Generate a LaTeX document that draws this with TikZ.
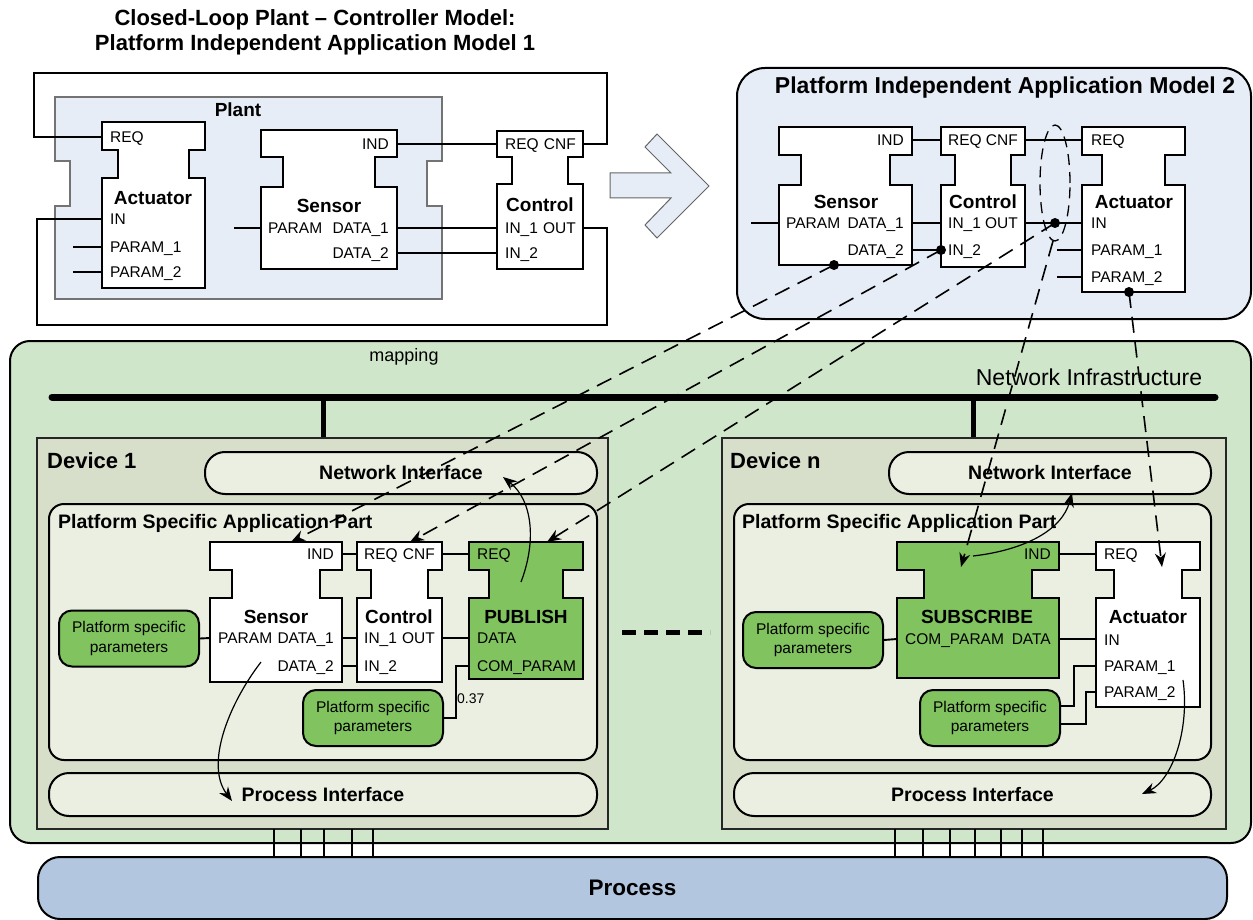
\documentclass[tikz,border=0pt]{standalone}
\usepackage{fontspec}
\setmainfont{Liberation Sans}
\usetikzlibrary{arrows.meta}
\definecolor{lblue}{HTML}{E6EDF7}
\definecolor{mapgreen}{HTML}{D0E6CB}
\definecolor{devfill}{HTML}{D7DEC9}
\definecolor{innerfill}{HTML}{EBEFE1}
\definecolor{fbgreen}{HTML}{80C35F}
\definecolor{procblue}{HTML}{B3C6E0}
\newcommand{\fbpath}[8]{%
  \draw[#1] (#2,#4) -- (#3,#4) -- (#3,#5) -- ({#3-#8},#5) -- ({#3-#8},#6) -- (#3,#6) -- (#3,#7) -- (#2,#7) -- (#2,#6) -- ({#2+#8},#6) -- ({#2+#8},#5) -- (#2,#5) -- cycle;}
\begin{document}
\begin{tikzpicture}[x=1pt,y=-1pt,
  port/.style={font=\fontsize{15.5}{17}\selectfont, inner sep=0pt, text height=11.1pt, text depth=0pt},
  fbname/.style={font=\bfseries\fontsize{19}{21}\selectfont, inner sep=0pt, text height=13.7pt, text depth=0pt},
  titlefont/.style={font=\bfseries\fontsize{22}{26}\selectfont, inner sep=0pt},
  wire/.style={line width=1.9pt},
  fbbox/.style={draw=black, line width=2.1pt, fill=white},
  fbgbox/.style={fbbox, fill=fbgreen},
  pspbox/.style={draw, line width=2pt, fill=fbgreen, rounded corners=13pt, minimum width=140pt, minimum height=56pt, align=center, inner sep=0pt, font=\fontsize{15.5}{19.5}\selectfont},
  rbox/.style={draw, line width=2pt, fill=innerfill, inner sep=0pt},
  boxtitle/.style={font=\bfseries\fontsize{19.5}{22}\selectfont},
  mapline/.style={dashed, dash pattern=on 16pt off 9pt, line width=1.6pt, -{Stealth[length=14pt,width=11pt]}},
  flow/.style={line width=1.2pt, -{Stealth[length=14pt,width=11pt]}},
  jdot/.style={circle, fill=black, inner sep=0pt, minimum size=10pt},
]
\useasboundingbox (0,0) rectangle (1253,920);

% ---------------- Titles ----------------
\node[titlefont] (t1) at (315,20) {Closed-Loop Plant – Controller Model:};
\node[titlefont] (t2) at (315,45) {Platform Independent Application Model 1};

% ---------------- Model 1 ----------------
\fbpath{draw=black!55, line width=1.2pt, fill=lblue}{55}{442}{97}{161}{206}{299}{15}
\node[font=\bfseries\fontsize{19}{21}\selectfont] (plant) at (238,110) {Plant};

\coordinate (a1req) at (102,137); \coordinate (a1in) at (102,219);
\coordinate (a1p1) at (102,247); \coordinate (a1p2) at (102,272);
\coordinate (s1ind) at (397,144); \coordinate (s1d1) at (397,228);
\coordinate (s1d2) at (397,253); \coordinate (s1par) at (261,228);
\coordinate (c1req) at (497,144); \coordinate (c1cnf) at (583,144);
\coordinate (c1in1) at (497,228); \coordinate (c1out) at (583,228);
\coordinate (c1in2) at (497,253);
\coordinate (lpA) at (34,73); \coordinate (lpB) at (607,73);
\coordinate (lpC) at (607,325); \coordinate (lpD) at (37,325);

\draw[wire] (a1req) -- (lpA |- a1req) -- (lpA) -- (lpB) -- (lpB |- c1cnf) -- (c1cnf);
\draw[wire] (c1out) -- (lpC |- c1out) -- (lpC) -- (lpD) -- (lpD |- a1in) -- (a1in);
\draw[wire] (s1ind) -- (c1req);
\draw[wire] (s1d1) -- (c1in1);
\draw[wire] (s1d2) -- (c1in2);
\draw[wire] (s1par) -- ++(-27,0);
\draw[wire] (a1p1) -- ++(-29,0);
\draw[wire] (a1p2) -- ++(-29,0);

\fbpath{fbbox}{102}{205}{122}{150}{178}{288}{16}
\fbpath{fbbox}{261}{397}{130}{157}{187}{269}{22}
\fbpath{fbbox}{497}{583}{131}{157}{184}{269}{15}

\node[port, anchor=west] (a1reqL) at (110,137) {REQ};
\node[fbname] (a1name) at (153,198) {Actuator};
\node[port, anchor=west] (a1inL) at (110,219) {IN};
\node[port, anchor=west] (a1p1L) at (110,247) {PARAM\_1};
\node[port, anchor=west] (a1p2L) at (110,272) {PARAM\_2};

\node[port, anchor=east] (s1indL) at (389,144) {IND};
\node[fbname] (s1name) at (329,206) {Sensor};
\node[port, anchor=west] (s1parL) at (268,228) {PARAM};
\node[port, anchor=east] (s1d1L) at (389,228) {DATA\_1};
\node[port, anchor=east] (s1d2L) at (389,253) {DATA\_2};

\node[port, anchor=west] (c1reqL) at (505,144) {REQ};
\node[port, anchor=east] (c1cnfL) at (576,144) {CNF};
\node[fbname] (c1name) at (540,205) {Control};
\node[port, anchor=west] (c1in1L) at (505,228) {IN\_1};
\node[port, anchor=east] (c1outL) at (576,228) {OUT};
\node[port, anchor=west] (c1in2L) at (505,253) {IN\_2};

% big arrow
\draw[draw=black!60, line width=1pt, fill=lblue, line join=miter]
  (610,173) -- (671,173) -- (645,147) -- (657,134) -- (709,186) -- (657,238) -- (645,225) -- (671,198) -- (610,198) -- cycle;

% ---------------- Model 2 ----------------
\draw[line width=2pt, fill=lblue, rounded corners=28pt] (737,68) rectangle (1251,319);
\node[font=\bfseries\fontsize{23}{26}\selectfont] (m2title) at (1005,88) {Platform Independent Application Model 2};

\coordinate (s2ind) at (912,140); \coordinate (s2d1) at (912,223); \coordinate (s2d2) at (912,250);
\coordinate (s2par) at (779,223); \coordinate (s2bot) at (834,265);
\coordinate (c2req) at (941,140); \coordinate (c2cnf) at (1025,140);
\coordinate (c2in1) at (941,223); \coordinate (c2out) at (1025,223); \coordinate (c2in2) at (941,250);
\coordinate (a2req) at (1082,140); \coordinate (a2in) at (1082,223);
\coordinate (a2p1) at (1082,250); \coordinate (a2p2) at (1082,277); \coordinate (a2bot) at (1129,292);
\coordinate (outdot) at (1055,223);

\draw[wire] (s2ind) -- (c2req);
\draw[wire] (c2cnf) -- (a2req);
\draw[wire] (s2d1) -- (c2in1);
\draw[wire] (c2out) -- (a2in);
\draw[wire] (s2d2) -- (c2in2);
\draw[wire] (s2par) -- ++(-28,0);
\draw[wire] (a2p1) -- ++(-25,0);
\draw[wire] (a2p2) -- ++(-25,0);

\fbpath{fbbox}{779}{912}{127}{155}{185}{265}{22}
\fbpath{fbbox}{941}{1025}{127}{155}{185}{267}{14}
\fbpath{fbbox}{1082}{1185}{127}{155}{185}{292}{20}

\node[port, anchor=east] (s2indL) at (904,140) {IND};
\node[fbname] (s2name) at (846,202) {Sensor};
\node[port, anchor=west] (s2parL) at (786,223) {PARAM};
\node[port, anchor=east] (s2d1L) at (904,223) {DATA\_1};
\node[port, anchor=east] (s2d2L) at (904,250) {DATA\_2};

\node[port, anchor=west] (c2reqL) at (948,140) {REQ};
\node[port, anchor=east] (c2cnfL) at (1018,140) {CNF};
\node[fbname] (c2name) at (983,202) {Control};
\node[port, anchor=west] (c2in1L) at (948,223) {IN\_1};
\node[port, anchor=east] (c2outL) at (1018,223) {OUT};
\node[port, anchor=west] (c2in2L) at (948,250) {IN\_2};

\node[port, anchor=west] (a2reqL) at (1091,140) {REQ};
\node[fbname] (a2name) at (1134,202) {Actuator};
\node[port, anchor=west] (a2inL) at (1091,223) {IN};
\node[port, anchor=west] (a2p1L) at (1091,250) {PARAM\_1};
\node[port, anchor=west] (a2p2L) at (1091,277) {PARAM\_2};

\draw[dashed, dash pattern=on 11pt off 7pt, line width=1.3pt] (1055,183) ellipse [x radius=15pt, y radius=58pt];
\coordinate (ellS) at (1053,241);

% ---------------- Mapping panel ----------------
\draw[line width=2pt, fill=mapgreen, rounded corners=20pt] (10,341) rectangle (1251,843);
\node[font=\fontsize{18}{20}\selectfont] (mapping) at (404,357) {mapping};
\node[font=\fontsize{23}{26}\selectfont] (netinf) at (1089,377) {Network Infrastructure};
\coordinate (busL) at (52,397); \coordinate (busR) at (1215,397);
\draw[line width=7pt, line cap=round] (busL) -- (busR);
\draw[line width=5pt] (323,397) -- (323,438);
\draw[line width=5pt] (973,397) -- (973,438);

% devices
\draw[line width=2pt, draw=black!85, fill=devfill] (37,438) rectangle (608,829);
\draw[line width=2pt, draw=black!85, fill=devfill] (722,438) rectangle (1226,829);
\node[font=\bfseries\fontsize{22}{24}\selectfont, anchor=west, inner sep=0pt] (dev1) at (47,461) {Device 1};
\node[font=\bfseries\fontsize{22}{24}\selectfont, anchor=west, inner sep=0pt] (devn) at (730,461) {Device n};

\node[rbox, rounded corners=20pt, minimum width=392pt, minimum height=42pt, boxtitle] (ni1) at (401,473) {Network Interface};
\node[rbox, rounded corners=15pt, minimum width=548pt, minimum height=256pt] (psa1) at (323,632) {};
\node[rbox, rounded corners=20pt, minimum width=548pt, minimum height=43pt, boxtitle] (pi1) at (323,794.5) {Process Interface};
\node[boxtitle, anchor=west, inner sep=0pt] (psa1t) at (58,523) {Platform Specific Application Part};

\node[rbox, rounded corners=20pt, minimum width=322pt, minimum height=42pt, boxtitle] (nin) at (1050,473) {Network Interface};
\node[rbox, rounded corners=15pt, minimum width=477pt, minimum height=256pt] (psan) at (972.5,632) {};
\node[rbox, rounded corners=20pt, minimum width=477pt, minimum height=43pt, boxtitle] (pin) at (972.5,794.5) {Process Interface};
\node[boxtitle, anchor=west, inner sep=0pt] (psant) at (742,523) {Platform Specific Application Part};

% ---- Device 1 contents ----
\node[pspbox] (psp1a) at (129,638.5) {Platform specific\\parameters};
\node[pspbox] (psp1b) at (373,718) {Platform specific\\parameters};

\coordinate (s3ind) at (342,554); \coordinate (s3d1) at (342,638); \coordinate (s3d2) at (342,666);
\coordinate (s3par) at (210,638); \coordinate (s3top) at (291,542);
\coordinate (c3req) at (357,554); \coordinate (c3cnf) at (442,554);
\coordinate (c3in1) at (357,638); \coordinate (c3out) at (442,638); \coordinate (c3in2) at (357,666);
\coordinate (c3top) at (410,542);
\coordinate (pbreq) at (469,554); \coordinate (pbdata) at (469,638); \coordinate (pbcom) at (469,666);
\coordinate (pbtop) at (547,542);

\draw[wire] (s3ind) -- (c3req);
\draw[wire] (c3cnf) -- (pbreq);
\draw[wire] (s3d1) -- (c3in1);
\draw[wire] (c3out) -- (pbdata);
\draw[wire] (s3d2) -- (c3in2);
\draw[wire] (psp1a.east) -- (s3par);
\draw[wire] (psp1b.east) -- (456,718) -- (456,666) -- (pbcom);
\node[font=\fontsize{14}{16}\selectfont, anchor=west, inner sep=0pt] (v037) at (457,699) {0.37};

\fbpath{fbbox}{210}{342}{542}{570}{598}{682}{22}
\fbpath{fbbox}{357}{442}{542}{570}{598}{682}{14}
\fbpath{fbgbox}{469}{583}{542}{570}{598}{679}{20}

\node[port, anchor=east] (s3indL) at (334,554) {IND};
\node[fbname] (s3name) at (276,617) {Sensor};
\node[port, anchor=west] (s3parL) at (218,638) {PARAM};
\node[port, anchor=east] (s3d1L) at (334,638) {DATA\_1};
\node[port, anchor=east] (s3d2L) at (334,666) {DATA\_2};

\node[port, anchor=west] (c3reqL) at (364,554) {REQ};
\node[port, anchor=east] (c3cnfL) at (435,554) {CNF};
\node[fbname] (c3name) at (399,617) {Control};
\node[port, anchor=west] (c3in1L) at (364,638) {IN\_1};
\node[port, anchor=east] (c3outL) at (435,638) {OUT};
\node[port, anchor=west] (c3in2L) at (364,666) {IN\_2};

\node[port, anchor=west] (pbreqL) at (477,554) {REQ};
\node[fbname] (pbname) at (526,617) {PUBLISH};
\node[port, anchor=west] (pbdataL) at (477,638) {DATA};
\node[port, anchor=west] (pbcomL) at (477,666) {COM\_PARAM};

\coordinate (pbin) at (521,582); \coordinate (ni1tip) at (503,477);
\coordinate (s3in) at (261,662); \coordinate (pi1tip) at (232,801);
\draw[flow] (pbin) .. controls (537,540) and (532,500) .. (ni1tip);
\draw[flow] (s3in) .. controls (228,705) and (205,765) .. (pi1tip);

% ---- Device n contents ----
\node[pspbox] (psp2a) at (813,640) {Platform specific\\parameters};
\node[pspbox] (psp2b) at (990,718) {Platform specific\\parameters};

\coordinate (sbind) at (1059,554); \coordinate (sbdata) at (1059,639); \coordinate (sbpar) at (897,639);
\coordinate (sbtop) at (961,567);
\coordinate (a4req) at (1096,554); \coordinate (a4in) at (1096,639);
\coordinate (a4p1) at (1096,666); \coordinate (a4p2) at (1096,692); \coordinate (a4top) at (1162,567);

\draw[wire] (sbind) -- (a4req);
\draw[wire] (sbdata) -- (a4in);
\draw[wire] (psp2a.east) -- (sbpar);
\draw[wire] (1060,706) -- (1074,706) -- (1074,666) -- (a4p1);
\draw[wire] (1060,724) -- (1086,724) -- (1086,692) -- (a4p2);

\fbpath{fbgbox}{897}{1059}{542}{570}{598}{678}{27}
\fbpath{fbbox}{1096}{1200}{542}{570}{598}{707}{18}

\node[port, anchor=east] (sbindL) at (1051,554) {IND};
\node[fbname] (sbname) at (977,617) {SUBSCRIBE};
\node[port, anchor=west] (sbcomL) at (905,639) {COM\_PARAM};
\node[port, anchor=east] (sbdataL) at (1051,639) {DATA};

\node[port, anchor=west] (a4reqL) at (1104,554) {REQ};
\node[fbname] (a4name) at (1148,617) {Actuator};
\node[port, anchor=west] (a4inL) at (1104,640) {IN};
\node[port, anchor=west] (a4p1L) at (1104,666) {PARAM\_1};
\node[port, anchor=west] (a4p2L) at (1104,692) {PARAM\_2};

\coordinate (sbin) at (973,556); \coordinate (nintip) at (1072,493);
\coordinate (a4in2) at (1183,680); \coordinate (pintip) at (1142,794);
\draw[flow] (sbin) .. controls (1025,550) and (1062,530) .. (nintip);
\draw[flow] (a4in2) .. controls (1190,730) and (1172,780) .. (pintip);

% ellipsis
\draw[line width=5pt, dash pattern=on 14pt off 8pt] (622,632) -- (710,632);

% ---------------- Process ----------------
\node[draw, line width=2pt, fill=procblue, rounded corners=22pt, minimum width=1189pt, minimum height=62pt, font=\bfseries\fontsize{22.5}{25}\selectfont] (process) at (632.5,888) {Process};
\foreach \xx in {274,301,324,352,373,895,923,950,975,1001,1022,1043}
  \draw[line width=1.2pt] (\xx,829) -- (\xx,857);

% ---------------- Mapping lines ----------------
\node[jdot] (d1) at (s2bot) {};
\node[jdot] (d2) at (c2in2) {};
\node[jdot] (d3) at (outdot) {};
\node[jdot] (d4) at (a2bot) {};
\draw[mapline] (d1.center) -- (s3top);
\draw[mapline] (d2.center) -- (c3top);
\draw[mapline] (d3.center) -- (pbtop);
\draw[mapline] (ellS) -- (sbtop);
\draw[mapline] (d4.center) -- (a4top);
\end{tikzpicture}
\end{document}
